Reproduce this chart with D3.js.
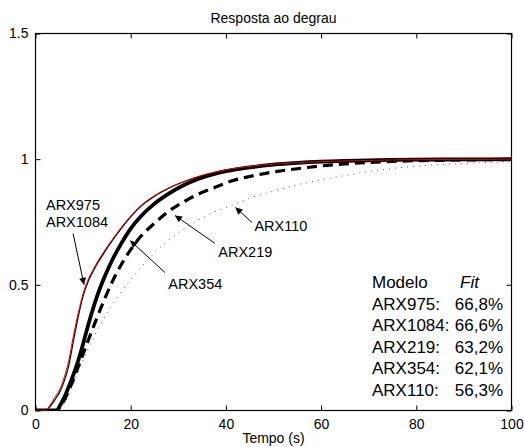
<!DOCTYPE html>
<html><head><meta charset="utf-8">
<script src="https://cdn.jsdelivr.net/npm/d3@7"></script>
<style>body{margin:0;background:#fff}svg{display:block}text{font-family:"Liberation Sans",Arial,sans-serif;fill:#000}</style>
</head><body><svg id="c" width="524" height="447"></svg>
<script>
const title = "Resposta ao degrau";
const xLabel = "Tempo (s)";
const xTicks = [0,20,40,60,80,100];
const yTicks = [0,0.5,1,1.5];
const yTickLabels = ["0","0.5","1","1.5"];
const tempo   = [0,2,3,4,4.5,5,6,7,8,9,10,11,12,13,14,15,16,18,20,22,25,28,31,34,38,41,45,50,55,60,65,70,75,80,90,100];
const arx975  = [0,0,0.015,0.04,0.055,0.07,0.115,0.18,0.28,0.375,0.455,0.51,0.55,0.585,0.615,0.645,0.672,0.724,0.77,0.81,0.852,0.884,0.909,0.929,0.949,0.96,0.97,0.98,0.986,0.99,0.993,0.995,0.997,0.998,0.999,1.0];
const arx1084 = [0,0,0.02,0.05,0.065,0.08,0.13,0.20,0.30,0.39,0.465,0.518,0.557,0.591,0.621,0.65,0.677,0.728,0.774,0.813,0.855,0.886,0.91,0.93,0.95,0.961,0.971,0.98,0.986,0.99,0.993,0.995,0.997,0.998,0.999,1.0];
const arx354  = [0,0,0,0,0,0.015,0.05,0.095,0.145,0.2,0.265,0.335,0.4,0.458,0.508,0.553,0.594,0.664,0.724,0.77,0.823,0.863,0.895,0.92,0.943,0.955,0.967,0.978,0.985,0.99,0.993,0.995,0.997,0.998,0.999,1.0];
const arx219  = [0,0,0,0,0,0.01,0.04,0.08,0.125,0.175,0.225,0.275,0.325,0.373,0.42,0.465,0.507,0.58,0.64,0.69,0.745,0.793,0.829,0.859,0.89,0.912,0.931,0.949,0.962,0.973,0.981,0.987,0.991,0.994,0.997,0.998];
const arx110  = [0,0,0,0,0,0.005,0.03,0.06,0.105,0.155,0.2,0.243,0.283,0.32,0.355,0.388,0.419,0.472,0.52,0.566,0.627,0.678,0.719,0.755,0.793,0.815,0.845,0.873,0.898,0.918,0.935,0.951,0.963,0.972,0.983,0.99];
const modelos = ["ARX975:","ARX1084:","ARX219:","ARX354:","ARX110:"];
const fits = ["66,8%","66,6%","63,2%","62,1%","56,3%"];
// annotations: label lines, text position, arrow start, arrow tip (data units)
const annLabels = [["ARX975","ARX1084"],["ARX354"],["ARX219"],["ARX110"]];
const annText = [[2.2,0.796],[27.9,0.485],[38.4,0.609],[46,0.716]];
const annFrom = [[7.9,0.704],[27.2,0.549],[37.7,0.665],[45.5,0.748]];
const annTo = [[10.2,0.5],[19.9,0.676],[29.3,0.776],[42.0,0.808]];

const svg = d3.select("#c");
const L=35.5, R=511.5, T=33.5, B=410.5;
const x = d3.scaleLinear().domain([0,100]).range([L,R]);
const y = d3.scaleLinear().domain([0,1.5]).range([B,T]);

svg.append("defs").append("clipPath").attr("id","clip").append("rect")
  .attr("x",L).attr("y",T).attr("width",R-L).attr("height",B-T);
const mk = svg.select("defs").append("marker").attr("id","ah").attr("viewBox","0 0 10 10")
  .attr("refX",10).attr("refY",5).attr("markerWidth",9).attr("markerHeight",7)
  .attr("markerUnits","userSpaceOnUse").attr("orient","auto");
mk.append("path").attr("d","M0,0 L10,5 L0,10 Z").attr("fill","#000");

const tk = 5;
const axB = d3.axisBottom(x).tickValues(xTicks).tickSize(-tk).tickPadding(9).tickFormat(d3.format("d"));
const axT = d3.axisTop(x).tickValues(xTicks).tickSize(-tk).tickFormat("");
const axL = d3.axisLeft(y).tickValues(yTicks).tickSize(-tk).tickPadding(7).tickFormat((d,i)=>yTickLabels[i]);
const axR = d3.axisRight(y).tickValues(yTicks).tickSize(-tk).tickFormat("");
function style(g){g.selectAll("path").remove();g.selectAll("line").attr("stroke","#000");g.selectAll("text").attr("font-size",14).attr("font-family","Liberation Sans, Arial, sans-serif");}
svg.append("g").attr("transform",`translate(0,${B})`).call(axB).call(style);
svg.append("g").attr("transform",`translate(0,${T})`).call(axT).call(style);
svg.append("g").attr("transform",`translate(${L},0)`).call(axL).call(style);
svg.append("g").attr("transform",`translate(${R},0)`).call(axR).call(style);
svg.append("rect").attr("x",L).attr("y",T).attr("width",R-L).attr("height",B-T)
  .attr("fill","none").attr("stroke","#000").attr("stroke-width",1.2);

const plot = svg.append("g").attr("clip-path","url(#clip)");
const line = d3.line().x((d,i)=>x(tempo[i])).y(d=>y(d)).curve(d3.curveMonotoneX);
plot.append("path").attr("d",line(arx110)).attr("fill","none").attr("stroke","#555").attr("stroke-width",1).attr("stroke-dasharray","1,5");
plot.append("path").attr("d",line(arx219)).attr("fill","none").attr("stroke","#000").attr("stroke-width",3.2).attr("stroke-dasharray","10,6");
plot.append("path").attr("d",line(arx354)).attr("fill","none").attr("stroke","#000").attr("stroke-width",3.8);
plot.append("path").attr("d",line(arx975)).attr("fill","none").attr("stroke","#000").attr("stroke-width",1.2);
plot.append("path").attr("d",line(arx1084)).attr("fill","none").attr("stroke","#e00000").attr("stroke-width",1);

annLabels.forEach((lines,i)=>{
  const t = svg.append("text").attr("x",x(annText[i][0])).attr("y",y(annText[i][1])).attr("font-size",14.5);
  lines.forEach((s,j)=>t.append("tspan").attr("x",x(annText[i][0])).attr("dy",j?17:0).text(s));
  svg.append("line").attr("x1",x(annFrom[i][0])).attr("y1",y(annFrom[i][1]))
    .attr("x2",x(annTo[i][0])).attr("y2",y(annTo[i][1])).attr("stroke","#000").attr("stroke-width",1)
    .attr("marker-end","url(#ah)");
});

const lg = svg.append("g");
lg.append("text").attr("x",372).attr("y",288).attr("font-size",17).text("Modelo");
lg.append("text").attr("x",460).attr("y",288).attr("font-size",17).attr("font-style","italic").text("Fit");
modelos.forEach((m,i)=>{
  lg.append("text").attr("x",372).attr("y",309.5+i*21.5).attr("font-size",17).text(m);
  lg.append("text").attr("x",503).attr("y",309.5+i*21.5).attr("font-size",17).attr("text-anchor","end").text(fits[i]);
});

svg.append("text").attr("x",(L+R)/2).attr("y",23).attr("text-anchor","middle").attr("font-size",14).text(title);
svg.append("text").attr("x",(L+R)/2).attr("y",443).attr("text-anchor","middle").attr("font-size",14).text(xLabel);
</script></body></html>
